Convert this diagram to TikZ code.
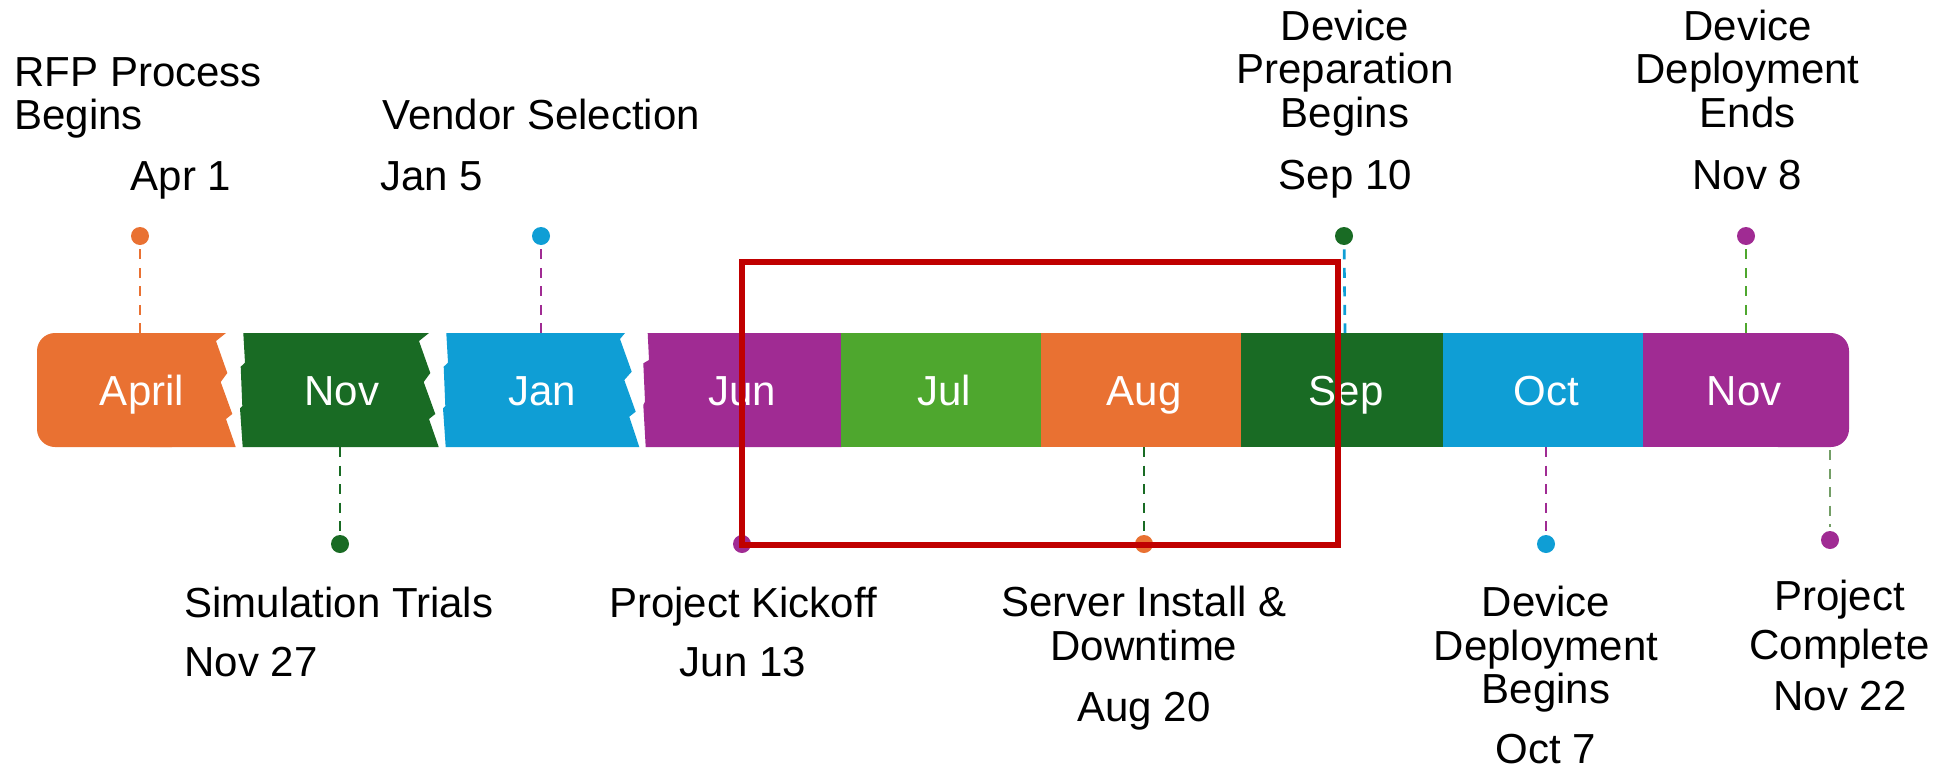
\documentclass[tikz,border=0pt]{standalone}
\usepackage{fontspec}
\setmainfont{Liberation Sans}
\definecolor{tlorange}{HTML}{E97132}
\definecolor{tldkgreen}{HTML}{196B24}
\definecolor{tlblue}{HTML}{0F9ED5}
\definecolor{tlpurple}{HTML}{A02B93}
\definecolor{tlgreen}{HTML}{4EA72E}
\definecolor{tlred}{HTML}{C00000}
\definecolor{tlmuted}{HTML}{739E66}
% stacked label lines, first line on the node baseline
\newcommand\labstack[2][c]{\begin{tabular}[t]{@{}#1@{}}#2\end{tabular}}

\begin{document}
\begin{tikzpicture}[x=0.5pt,y=-0.5pt,
  lbl/.style={inner sep=0pt, font=\fontsize{21pt}{21.75pt}\selectfont, anchor=base},
  lblw/.style={lbl, anchor=base west},
  month/.style={inner sep=0pt, font=\fontsize{21pt}{21.75pt}\selectfont, text=white, anchor=base},
  evdot/.style={circle, inner sep=0pt, minimum size=9pt, fill=#1},
  evline/.style={draw=#1, line width=1.35pt, dash pattern=on 5pt off 4.25pt},
]
\useasboundingbox (0,0) rectangle (1947,771);

% ---- timeline bar ----
% April (rounded left end, torn right edge)
\fill[tlorange, rounded corners=9pt] (37,333) rectangle (190,447);
\fill[tlorange] (150,333) -- (226,333) -- (216,341) -- (227.3,373) -- (220.7,382)
  -- (232.3,414) -- (226,419) -- (235.7,447) -- (150,447) -- cycle;
% Nov (torn both sides)
\fill[tldkgreen] (243.3,333) -- (245,362.7) -- (240.7,366.7) -- (242.3,406) -- (240,408.3)
  -- (242.7,447) -- (438.7,447) -- (429,419) -- (435.3,414) -- (423.7,382) -- (430.3,373)
  -- (419,341) -- (429,333) -- cycle;
% Jan (torn both sides)
\fill[tlblue] (446.3,333) -- (448,362.7) -- (443.7,366.7) -- (445.3,406) -- (443,408.3)
  -- (445.7,447) -- (639.3,447) -- (629.3,416.7) -- (635.7,411.7) -- (624.3,380)
  -- (631.7,371.7) -- (620,339) -- (625,333) -- cycle;
% Jun (torn left side)
\fill[tlpurple] (647.7,333) -- (649,360) -- (643.3,363.3) -- (645,401.7) -- (643.3,405)
  -- (645.7,447) -- (841.5,447) -- (841.5,333) -- cycle;
\fill[tlgreen]    (841,333)  rectangle (1041.5,447);
\fill[tlorange]   (1041,333) rectangle (1241.5,447);
\fill[tldkgreen]  (1241,333) rectangle (1443.5,447);
\fill[tlblue]     (1443,333) rectangle (1643.5,447);
\fill[tlpurple]   (1643,333) rectangle (1800,447);
\fill[tlpurple, rounded corners=9pt] (1760,333) rectangle (1849,447);

% month names
\node[month] (m1) at (142,405)  {April};
\node[month] (m2) at (342,405)  {Nov};
\node[month] (m3) at (542,405)  {Jan};
\node[month] (m4) at (742,405)  {Jun};
\node[month] (m5) at (944,405)  {Jul};
\node[month] (m6) at (1144,405) {Aug};
\node[month] (m7) at (1346,405) {Sep};
\node[month] (m8) at (1546,405) {Oct};
\node[month] (m9) at (1744,405) {Nov};

% ---- milestones above the bar ----
\coordinate (ta) at (140,333);
\coordinate (tb) at (541,333);
\coordinate (tc) at (1345,333);
\coordinate (td) at (1746,333);
\node[evdot=tlorange]  (da) at (140,236)  {};
\node[evdot=tlblue]    (db) at (541,236)  {};
\node[evdot=tldkgreen] (dc) at (1344,236) {};
\node[evdot=tlpurple]  (dd) at (1746,236) {};
\draw[evline=tlorange, shorten <=2pt] (da) -- (ta);
\draw[evline=tlpurple, shorten <=2pt] (db) -- (tb);
\draw[evline=tlblue,   shorten <=2pt] (dc) -- (tc);
\draw[evline=tlgreen,  shorten <=2pt] (dd) -- (td);

% ---- milestones below the bar ----
\coordinate (ba) at (340,447);
\coordinate (bb) at (742,447);
\coordinate (bc) at (1144,447);
\coordinate (bd) at (1546,447);
\coordinate (be) at (1830,450);
\node[evdot=tldkgreen] (ea) at (340,544)  {};
\node[evdot=tlpurple]  (eb) at (742,544)  {};
\node[evdot=tlorange]  (ec) at (1144,544) {};
\node[evdot=tlblue]    (ed) at (1546,544) {};
\node[evdot=tlpurple]  (ee) at (1830,540) {};
\draw[evline=tldkgreen, shorten >=2pt] (ba) -- (ea);
\draw[evline=tlpurple,  shorten >=2pt] (bb) -- (eb);
\draw[evline=tldkgreen, shorten >=2pt] (bc) -- (ec);
\draw[evline=tlpurple,  shorten >=2pt] (bd) -- (ed);
\draw[evline=tlmuted,   shorten >=2pt] (be) -- (ee);

% ---- milestone texts ----
\node[lblw] (ra)  at (14,86)      {\labstack[l]{RFP Process\\Begins}};
\node[lbl]  (rad) at (181,190)    {Apr 1};
\node[lblw] (rb)  at (382,129.3)  {Vendor Selection};
\node[lblw] (rbd) at (380,190)    {Jan 5};
\node[lbl]  (rc)  at (1345,40)    {\labstack{Device\\Preparation\\Begins}};
\node[lbl]  (rcd) at (1345.5,189.3) {Sep 10};
\node[lbl]  (rd)  at (1747.5,40)  {\labstack{Device\\Deployment\\Ends}};
\node[lbl]  (rdd) at (1747.5,189.5) {Nov 8};

\node[lblw] (sa)  at (184,617.3)  {Simulation Trials};
\node[lblw] (sad) at (184,676.7)  {Nov 27};
\node[lbl]  (sb)  at (743,617)    {Project Kickoff};
\node[lbl]  (sbd) at (743,676.7)  {Jun 13};
\node[lbl]  (sc)  at (1144,616.7) {\labstack{Server Install \&\\Downtime}};
\node[lbl]  (scd) at (1144,721.7) {Aug 20};
\node[lbl]  (sd)  at (1546,616.7) {\labstack{Device\\Deployment\\Begins}};
\node[lbl]  (sdd) at (1546,763.3) {Oct 7};
\node[lbl]  (se)  at (1839.5,610) {\labstack{Project\\[2.75pt]Complete}};
\node[lbl]  (sed) at (1840,710)   {Nov 22};

% ---- highlight frame ----
\draw[tlred, line width=2.85pt] (742,262) rectangle (1338,545);
\end{tikzpicture}
\end{document}
